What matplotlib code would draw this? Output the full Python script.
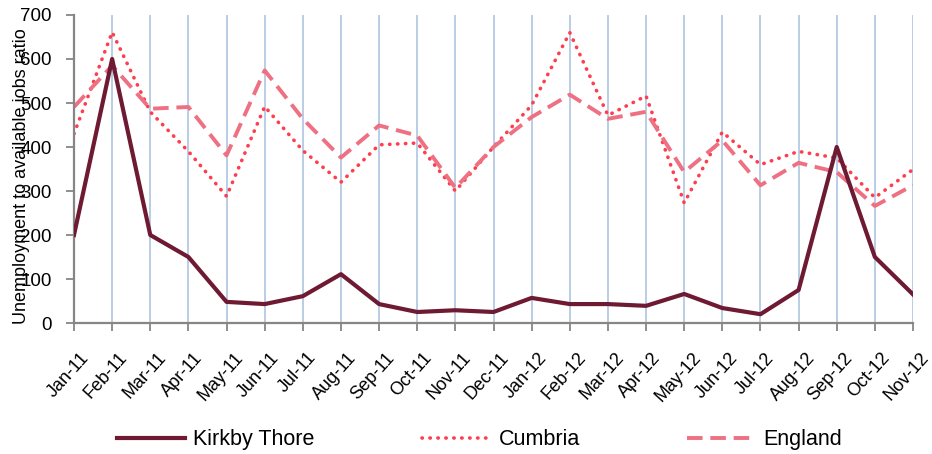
import numpy as np
import matplotlib.pyplot as plt
import matplotlib.transforms as mtransforms

plt.rcParams['font.family'] = ['Liberation Sans', 'DejaVu Sans']

# ---------------------------------------------------------------
# Data
# ---------------------------------------------------------------
months = ['Jan-11', 'Feb-11', 'Mar-11', 'Apr-11', 'May-11', 'Jun-11',
          'Jul-11', 'Aug-11', 'Sep-11', 'Oct-11', 'Nov-11', 'Dec-11',
          'Jan-12', 'Feb-12', 'Mar-12', 'Apr-12', 'May-12', 'Jun-12',
          'Jul-12', 'Aug-12', 'Sep-12', 'Oct-12', 'Nov-12']

kirkby_thore = [200, 600, 200, 150, 48, 43, 61, 111, 43, 25, 29, 25,
                57, 43, 43, 39, 66, 34, 20, 75, 400, 150, 65]
cumbria = [430, 661, 480, 390, 288, 492, 392, 320, 405, 409, 300, 400,
           495, 660, 472, 516, 273, 434, 360, 390, 375, 285, 349]
england = [491, 585, 487, 491, 381, 574, 464, 376, 449, 426, 307, 400,
           468, 519, 464, 480, 343, 415, 313, 364, 343, 266, 313]

y_ticks = [0, 100, 200, 300, 400, 500, 600, 700]

# ---------------------------------------------------------------
fig = plt.figure(figsize=(9.32, 4.54), dpi=100)
ax = fig.add_axes([74 / 932, 1 - 323 / 454, (913 - 74) / 932, (323 - 15) / 454])

x = np.arange(len(months))

# vertical grid lines at every category
for xi in x[1:]:
    ax.axvline(xi, color='#b9cde5', lw=1.4, zorder=0)

ax.plot(x, kirkby_thore, color='#6e1a32', lw=3.0, solid_joinstyle='round',
        label='Kirkby Thore', zorder=3)
ax.plot(x, cumbria, color='#ff3d4d', lw=2.6, linestyle=(0, (0.1, 2.1)),
        dash_capstyle='round', label='Cumbria', zorder=2)
ax.plot(x, england, color='#ee7082', lw=2.8, linestyle=(0, (4.0, 2.0)),
        label='England', zorder=2)

ax.set_xlim(0, len(months) - 1)
ax.set_ylim(0, 700)
ax.set_yticks(y_ticks)
ax.set_xticks(x)
ax.set_xticklabels(months, rotation=48, ha='center', fontsize=13)
ax.tick_params(axis='x', length=6, width=1.3, color='#868686', pad=13)
ax.tick_params(axis='y', length=6, width=1.3, color='#868686', pad=10,
               labelsize=13.5)

# nudge the rotated month labels a little to the left, as in the original
shift = mtransforms.ScaledTranslation(-6 / 100, 0, fig.dpi_scale_trans)
for lab in ax.get_xticklabels():
    lab.set_transform(lab.get_transform() + shift)

for side in ['top', 'right']:
    ax.spines[side].set_visible(False)
for side in ['left', 'bottom']:
    ax.spines[side].set_color('#868686')
    ax.spines[side].set_linewidth(1.6)

ax.set_ylabel('Unemployment to available jobs ratio', fontsize=13)
ax.yaxis.set_label_coords(-0.052, 0.477)

fig.legend(loc='center', bbox_to_anchor=(0.5145, 0.031), ncol=3,
           frameon=False, fontsize=15.5, handlelength=3.2, handletextpad=0.35,
           columnspacing=5.0)

plt.savefig('out.png', dpi=100)
